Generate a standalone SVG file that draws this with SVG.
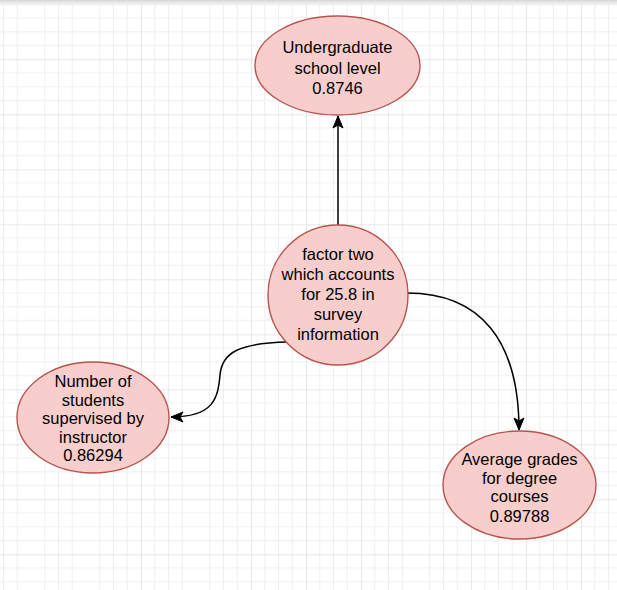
<svg xmlns="http://www.w3.org/2000/svg" width="617" height="590" viewBox="0 0 617 590">
<style>
.node ellipse{fill:#f8cecc;stroke:#b85450;stroke-width:1.4}
.node text{font-family:"Liberation Sans",Arial,sans-serif;font-size:16.5px;fill:#000;text-anchor:middle}
.edge{fill:none;stroke:#000;stroke-width:1.5;marker-end:url(#arrow)}
</style>
<defs>
<pattern id="grid" patternUnits="userSpaceOnUse" x="-24" y="4.3" width="55" height="55">
<path d="M13.75,0V55M27.5,0V55M41.25,0V55M0,13.75H55M0,27.5H55M0,41.25H55" stroke="#efefef" stroke-width="1" fill="none"/>
<path d="M0,0V55M0,0H55" stroke="#d3d3d3" stroke-width="1" fill="none"/>
</pattern>
<linearGradient id="topbar" x1="0" y1="0" x2="0" y2="1">
<stop offset="0" stop-color="#d6d6d6"/>
<stop offset="1" stop-color="#f2f2f2"/>
</linearGradient>
<marker id="arrow" markerUnits="userSpaceOnUse" markerWidth="13" markerHeight="11" refX="12" refY="5" orient="auto" overflow="visible">
<path d="M0,0 L12,5 L0,10 L3,5 Z" fill="#000" stroke="#000" stroke-width="1"/>
</marker>
</defs>
<rect width="617" height="590" fill="#fff"/>
<rect width="617" height="590" fill="url(#grid)"/>
<rect width="617" height="4" fill="url(#topbar)"/>
<g id="connectors">
<path class="edge" d="M338,225 L338,116"/>
<path class="edge" d="M288,342 C240,343 222,352 220,375 C218,398 214,417 171,417"/>
<path class="edge" d="M407,293 C480,293 519,340 519,430"/>
</g>
<g id="node-undergraduate" class="node">
<ellipse cx="337.5" cy="65.5" rx="82.5" ry="49.5"/>
<text x="337.5" y="53">Undergraduate</text>
<text x="337.5" y="73.5">school level</text>
<text x="337.5" y="93.5">0.8746</text>
</g>
<g id="node-factor-two" class="node">
<ellipse cx="338" cy="295" rx="70" ry="70"/>
<text x="338" y="259.5">factor two</text>
<text x="338" y="279.5">which accounts</text>
<text x="338" y="300">for 25.8 in</text>
<text x="338" y="320">survey</text>
<text x="338" y="340">information</text>
</g>
<g id="node-students" class="node">
<ellipse cx="93" cy="417.5" rx="76" ry="55.5"/>
<text x="93" y="387">Number of</text>
<text x="93" y="405.5">students</text>
<text x="93" y="424">supervised by</text>
<text x="93" y="442.5">instructor</text>
<text x="93" y="461">0.86294</text>
</g>
<g id="node-grades" class="node">
<ellipse cx="519.5" cy="485" rx="76.5" ry="54"/>
<text x="519.5" y="465">Average grades</text>
<text x="519.5" y="483.5">for degree</text>
<text x="519.5" y="502">courses</text>
<text x="519.5" y="521.5">0.89788</text>
</g>
</svg>
